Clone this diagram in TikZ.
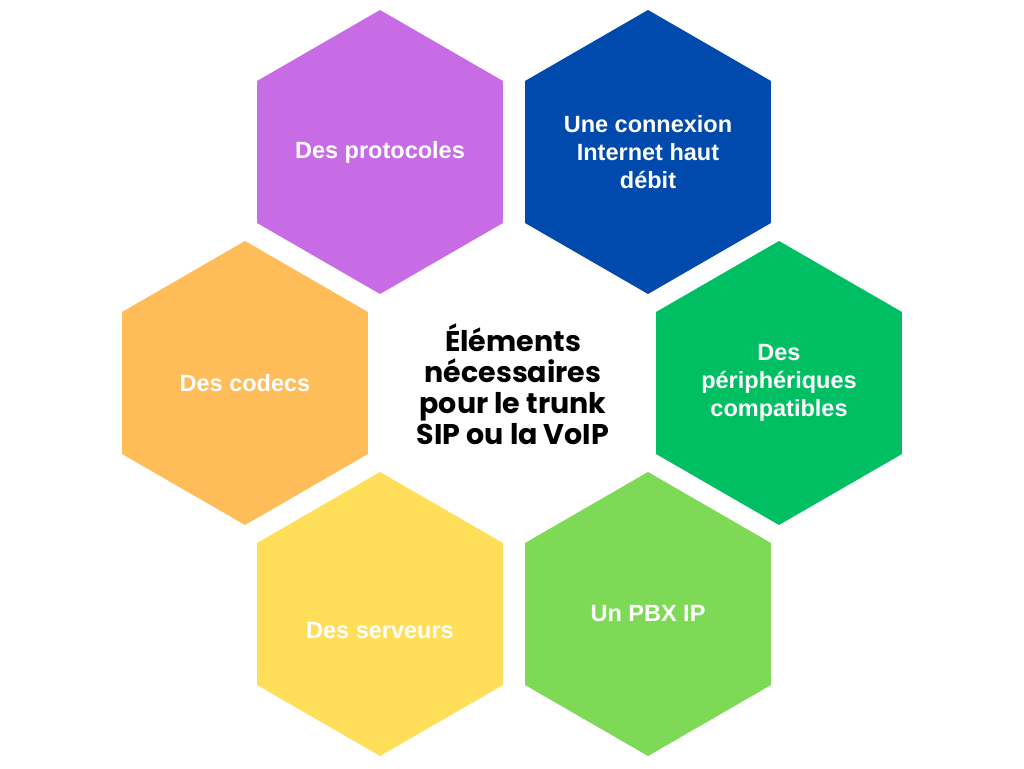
\documentclass[tikz,border=0pt]{standalone}
\usepackage{fontspec}
\setmainfont{Liberation Sans}
\newfontfamily\titlefont{Poppins}
\usetikzlibrary{shapes.geometric}
\definecolor{cpurple}{HTML}{C86CE6}
\definecolor{cblue}{HTML}{004AAD}
\definecolor{cgreen}{HTML}{00BF63}
\definecolor{corange}{HTML}{FFBD59}
\definecolor{cyellow}{HTML}{FFDE59}
\definecolor{clight}{HTML}{7ED957}
\begin{document}
\begin{tikzpicture}[x=1pt,y=1pt,
  hexa/.style={regular polygon, regular polygon sides=6, shape border rotate=30,
    minimum size=284pt, inner sep=0pt, outer sep=0pt, draw=none, fill=#1},
  lbl/.style={text=white, font=\fontsize{23.5}{28}\selectfont\bfseries, align=center, inner sep=0pt},
  ttl/.style={text=black, font=\fontsize{28.5}{31}\selectfont\titlefont\bfseries, align=center, inner sep=0pt}]
\useasboundingbox[fill=white] (0,0) rectangle (1024,768);
\node[hexa=cpurple] (h1) at (380,616) {};
\node[hexa=cblue]   (h2) at (648,616) {};
\node[hexa=corange] (h3) at (245,385) {};
\node[hexa=cgreen]  (h4) at (779,385) {};
\node[hexa=cyellow] (h5) at (380,154) {};
\node[hexa=clight]  (h6) at (648,154) {};
\node[lbl] (t1) at (h1) {Des protocoles};
\node[lbl] (t2) at (h2) {Une connexion\\Internet haut\\débit};
\node[lbl] (t3) at (h3) {Des codecs};
\node[lbl] (t4) at (h4) {Des\\périphériques\\compatibles};
\node[lbl] (t5) at ([yshift=-17pt]h5.center) {Des serveurs};
\node[lbl] (t6) at (h6) {Un PBX IP};
\node[ttl] (c) at (513,384) {Éléments\\nécessaires\\pour le trunk\\SIP ou la VoIP};
\end{tikzpicture}
\end{document}
